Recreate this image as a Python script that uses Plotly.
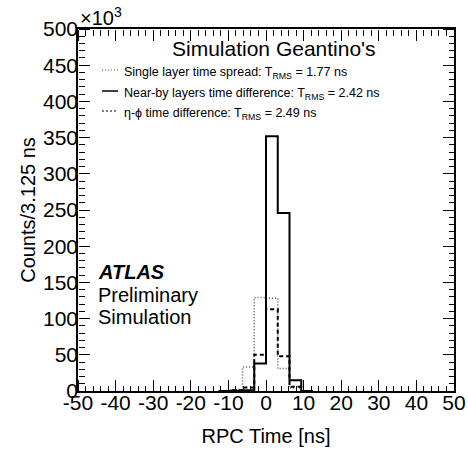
import plotly.graph_objects as go

# Bin edges (3.125 ns bins) over the populated region
bin_edges = [-12.5, -9.375, -6.25, -3.125, 0.0, 3.125, 6.25, 9.375, 12.5]
# Counts in units of 10^3
single_layer = [0.5, 2, 33, 129, 128, 31, 4, 0.5]
nearby_layers = [0, 0.5, 1, 38, 352, 246, 15, 0]
eta_phi = [0, 1, 5, 50, 113, 48, 6, 0]

x_tickvals = [-50, -40, -30, -20, -10, 0, 10, 20, 30, 40, 50]
x_ticklabels = ["-50", "-40", "-30", "-20", "-10", "0", "10", "20", "30", "40", "50"]
y_tickvals = [0, 50, 100, 150, 200, 250, 300, 350, 400, 450, 500]
y_ticklabels = ["0", "50", "100", "150", "200", "250", "300", "350", "400", "450", "500"]
x_range, y_range = [-50, 50], [0, 500]
x_minor, y_minor = 2, 10

FONT = "Liberation Sans, Arial, Helvetica, sans-serif"


def step(edges, counts):
    xs = [edges[0]] + list(edges)
    ys = [0] + list(counts) + [0]
    return xs, ys


fig = go.Figure()
for counts, dash, width, color in [
    (single_layer, "1px,2px", 1.5, "#555555"),
    (eta_phi, "4px,3px", 2, "black"),
    (nearby_layers, "solid", 2, "black"),
]:
    xs, ys = step(bin_edges, counts)
    fig.add_trace(go.Scatter(x=xs, y=ys, mode="lines", line_shape="hv",
                             line=dict(color=color, width=width, dash=dash),
                             showlegend=False, hoverinfo="skip"))

# empty traces so the tick-only overlay axes are drawn
for xa, ya in [("x2", "y"), ("x3", "y"), ("x", "y2"), ("x", "y3")]:
    fig.add_trace(go.Scatter(x=[], y=[], xaxis=xa, yaxis=ya, showlegend=False,
                             hoverinfo="skip"))


def main_axis(rng, vals, labels, title, standoff, lblstandoff):
    return dict(
        range=rng, autorange=False, automargin=False,
        tickmode="array", tickvals=vals, ticktext=labels, tickangle=0,
        showgrid=False, zeroline=False, showline=True, linecolor="black",
        linewidth=1.5, mirror=True, ticks="", ticklabelstandoff=lblstandoff,
        tickfont=dict(family=FONT, size=21, color="black"),
        title=dict(text=title, font=dict(family=FONT, size=20, color="black"),
                   standoff=standoff),
    )


def tick_axis(rng, vals, minor_dtick, overlay, side, pos):
    return dict(
        range=rng, autorange=False, automargin=False, overlaying=overlay,
        anchor="free", position=pos, side=side,
        tickmode="array", tickvals=vals, showticklabels=False,
        showgrid=False, zeroline=False, showline=False,
        ticks="outside", ticklen=11, tickwidth=1, tickcolor="black",
        minor=dict(dtick=minor_dtick, tick0=rng[0], ticks="outside", ticklen=5.5,
                   tickwidth=1, tickcolor="black", showgrid=False),
    )


fig.update_layout(
    xaxis=main_axis(x_range, x_tickvals, x_ticklabels, "RPC Time [ns]", 16, -8),
    yaxis=main_axis(y_range, y_tickvals, y_ticklabels, "Counts/3.125 ns", 2, -6),
    xaxis2=tick_axis(x_range, x_tickvals, x_minor, "x", "top", 0),
    xaxis3=tick_axis(x_range, x_tickvals, x_minor, "x", "bottom", 1),
    yaxis2=tick_axis(y_range, y_tickvals, y_minor, "y", "right", 0),
    yaxis3=tick_axis(y_range, y_tickvals, y_minor, "y", "left", 1),
)

W, H = 468, 458
L, R, T, B = 78, 14, 29, 67
pw, ph = W - L - R, H - T - B


def px_x(x):
    return (x - L) / pw


def px_y(y):
    return 1 - (y - T) / ph


anns = [
    dict(text="×10<sup>3</sup>", x=0, y=1, xref="paper", yref="paper",
         xanchor="left", yanchor="bottom", yshift=-2, showarrow=False,
         font=dict(family=FONT, size=20, color="black")),
    dict(text="Simulation Geantino's", x=px_x(274), y=px_y(49), xref="paper", yref="paper",
         xanchor="center", yanchor="middle", showarrow=False,
         font=dict(family=FONT, size=21, color="black")),
    dict(text="<b><i>ATLAS</i></b>", x=px_x(96), y=px_y(272), xref="paper", yref="paper",
         xanchor="left", yanchor="middle", showarrow=False,
         font=dict(family=FONT, size=20, color="black")),
    dict(text="Preliminary", x=px_x(96), y=px_y(295), xref="paper", yref="paper",
         xanchor="left", yanchor="middle", showarrow=False,
         font=dict(family=FONT, size=20, color="black")),
    dict(text="Simulation", x=px_x(96), y=px_y(317), xref="paper", yref="paper",
         xanchor="left", yanchor="middle", showarrow=False,
         font=dict(family=FONT, size=20, color="black")),
]
legend_items = [
    ("Single layer time spread: T<sub>RMS</sub> = 1.77 ns", 71, "1px,2px", 1.2, "#555555"),
    ("Near-by layers time difference: T<sub>RMS</sub> = 2.42 ns", 92, "solid", 1.5, "black"),
    ("η-ϕ time difference: T<sub>RMS</sub> = 2.49 ns", 112, "2px,2px", 1.2, "black"),
]
shapes = []
for text, yc, dash, w, col in legend_items:
    anns.append(dict(text=text, x=px_x(122), y=px_y(yc + 2), xref="paper", yref="paper",
                     xanchor="left", yanchor="middle", showarrow=False,
                     font=dict(family=FONT, size=12.5, color="black")))
    shapes.append(dict(type="line", xref="paper", yref="paper",
                       x0=px_x(102), x1=px_x(118), y0=px_y(yc - 1), y1=px_y(yc - 1),
                       line=dict(color=col, width=w, dash=dash)))

fig.update_layout(
    width=W, height=H,
    margin=dict(l=L, r=R, t=T, b=B),
    paper_bgcolor="white", plot_bgcolor="white",
    font=dict(family=FONT, color="black"),
    annotations=anns, shapes=shapes,
    showlegend=False,
)

fig.write_html("out.html", config={"displayModeBar": False},
               post_script="document.body.style.margin='0';document.body.style.padding='0';")
